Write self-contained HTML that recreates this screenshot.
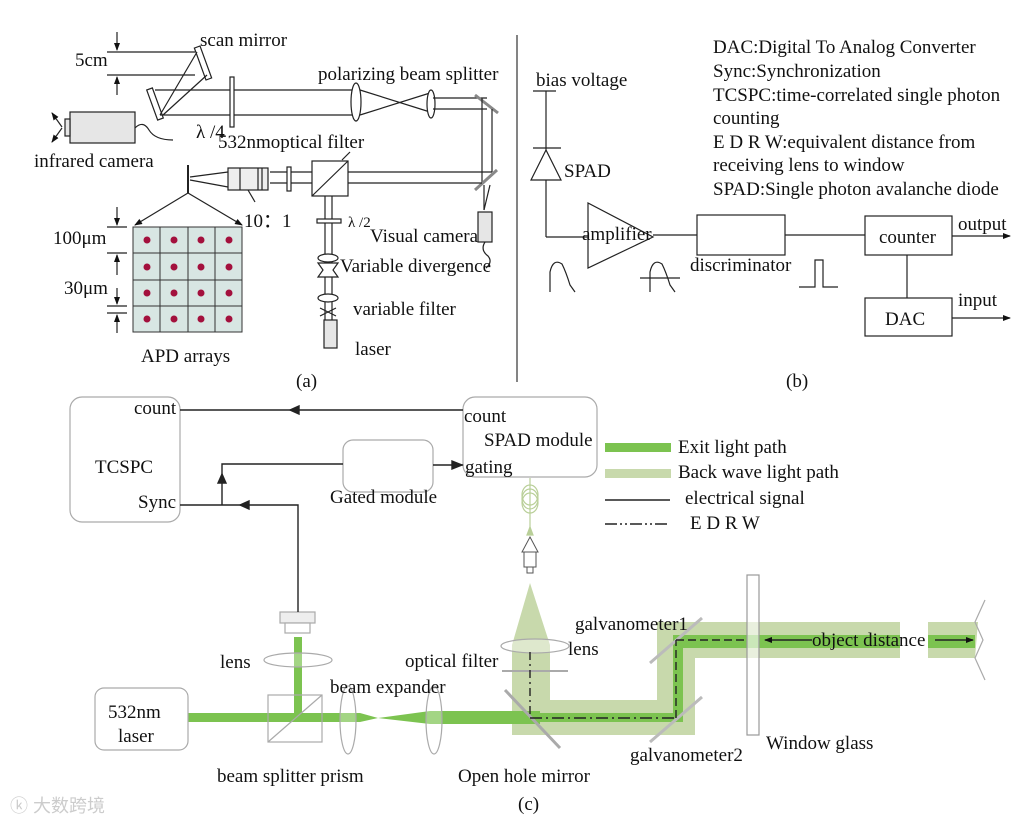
<!DOCTYPE html>
<html><head><meta charset="utf-8"><style>
html,body{margin:0;padding:0;background:#fff}
svg{display:block}
text{font-family:"Liberation Serif",serif;fill:#111}
</style></head><body>
<svg width="1024" height="824" viewBox="0 0 1024 824" xmlns="http://www.w3.org/2000/svg">
<defs>
<marker id="ah" markerWidth="8" markerHeight="8" refX="7" refY="4" orient="auto" markerUnits="userSpaceOnUse"><path d="M0,1 L8,4 L0,7 Z" fill="#111"/></marker>
</defs>
<line x1="517" y1="35" x2="517" y2="382" stroke="#333" stroke-width="1.2"/>

<!-- ===== Panel (a) ===== -->
<g stroke="#222" stroke-width="1.2" fill="none">
<line x1="107" y1="52" x2="195" y2="52"/><line x1="107" y1="75" x2="195" y2="75"/>
<line x1="117" y1="32" x2="117" y2="50" marker-end="url(#ah)"/>
<line x1="117" y1="95" x2="117" y2="77" marker-end="url(#ah)"/>
<rect x="200" y="46" width="6" height="34" transform="rotate(-20 203 63)" fill="#fff"/>
<rect x="152" y="88" width="6" height="32" transform="rotate(-20 155 104)" fill="#fff"/>
<line x1="197" y1="52" x2="160" y2="115"/><line x1="207" y1="75" x2="163" y2="115"/>
<line x1="155" y1="90" x2="355" y2="90"/><line x1="160" y1="115" x2="355" y2="115"/>
<rect x="230" y="77" width="4" height="50" fill="#fff"/>
<ellipse cx="356" cy="102" rx="5" ry="19" fill="#fff"/>
<line x1="360" y1="90" x2="430" y2="112"/><line x1="360" y1="115" x2="430" y2="93"/>
<ellipse cx="431" cy="104" rx="4" ry="14" fill="#fff"/>
<line x1="433" y1="98" x2="487" y2="98"/><line x1="433" y1="109" x2="487" y2="109"/>
<line x1="475" y1="95" x2="498" y2="113" stroke-width="3" stroke="#888"/>
<line x1="482" y1="98" x2="482" y2="183"/><line x1="492" y1="109" x2="492" y2="172"/>
<line x1="475" y1="190" x2="497" y2="170" stroke-width="3" stroke="#888"/>
<line x1="270" y1="172" x2="492" y2="172"/><line x1="270" y1="183" x2="482" y2="183"/>
<line x1="484" y1="185" x2="484" y2="210"/><line x1="490" y1="185" x2="484" y2="210"/>
<rect x="478" y="212" width="14" height="30" fill="#e6e6e6"/>
<path d="M485,242 q-5,8 3,14 q5,6 -2,12"/>
<rect x="312" y="161" width="36" height="35" fill="#fff"/>
<line x1="312" y1="196" x2="348" y2="161"/>
<line x1="342" y1="160" x2="350" y2="152"/>
<rect x="287" y="167" width="4" height="24" fill="#fff"/>
<rect x="228" y="168" width="40" height="22" fill="#eee"/>
<line x1="240" y1="168" x2="240" y2="190"/><line x1="258" y1="168" x2="258" y2="190"/>
<line x1="262" y1="168" x2="262" y2="190"/>
<line x1="190" y1="177" x2="228" y2="172"/><line x1="190" y1="180" x2="228" y2="187"/>
<line x1="248" y1="190" x2="255" y2="202"/>
<line x1="188" y1="165" x2="188" y2="193" stroke-width="2"/>
<line x1="188" y1="193" x2="135" y2="225" marker-end="url(#ah)"/>
<line x1="188" y1="193" x2="242" y2="225" marker-end="url(#ah)"/>
<line x1="325" y1="196" x2="325" y2="320"/><line x1="332" y1="196" x2="332" y2="320"/>
<rect x="317" y="219" width="24" height="4" fill="#fff"/>
<ellipse cx="328" cy="258" rx="10" ry="4" fill="#fff"/>
<path d="M318,263 L338,263 L333,270 L338,277 L318,277 L323,270 Z" fill="#fff"/>
<ellipse cx="328" cy="298" rx="10" ry="4" fill="#fff"/>
<path d="M320,308 L336,316 M320,316 L336,308"/>
<rect x="324" y="320" width="13" height="28" fill="#e6e6e6"/>
<rect x="70" y="112" width="65" height="31" fill="#e6e6e6"/>
<rect x="65" y="119" width="5" height="17" fill="#e6e6e6"/>
<line x1="62" y1="127" x2="52" y2="113" marker-end="url(#ah)"/>
<line x1="62" y1="128" x2="52" y2="142" marker-end="url(#ah)"/>
<path d="M135,128 q8,-8 14,2 q6,10 24,10"/>
<line x1="107" y1="227" x2="127" y2="227"/><line x1="107" y1="253" x2="127" y2="253"/>
<line x1="107" y1="306" x2="127" y2="306"/><line x1="107" y1="313" x2="127" y2="313"/>
<line x1="117" y1="207" x2="117" y2="225" marker-end="url(#ah)"/>
<line x1="117" y1="275" x2="117" y2="255" marker-end="url(#ah)"/>
<line x1="117" y1="288" x2="117" y2="304" marker-end="url(#ah)"/>
<line x1="117" y1="333" x2="117" y2="315" marker-end="url(#ah)"/>
</g>
<g stroke="#333" stroke-width="1">
<rect x="133" y="227" width="109" height="105" fill="#d8e6e3"/>
<line x1="160" y1="227" x2="160" y2="332"/><line x1="188" y1="227" x2="188" y2="332"/><line x1="215" y1="227" x2="215" y2="332"/>
<line x1="133" y1="253" x2="242" y2="253"/><line x1="133" y1="280" x2="242" y2="280"/><line x1="133" y1="306" x2="242" y2="306"/>
</g>
<g fill="#a3103d">
<circle cx="147" cy="240" r="3.5"/><circle cx="174" cy="240" r="3.5"/><circle cx="201" cy="240" r="3.5"/><circle cx="229" cy="240" r="3.5"/>
<circle cx="147" cy="267" r="3.5"/><circle cx="174" cy="267" r="3.5"/><circle cx="201" cy="267" r="3.5"/><circle cx="229" cy="267" r="3.5"/>
<circle cx="147" cy="293" r="3.5"/><circle cx="174" cy="293" r="3.5"/><circle cx="201" cy="293" r="3.5"/><circle cx="229" cy="293" r="3.5"/>
<circle cx="147" cy="319" r="3.5"/><circle cx="174" cy="319" r="3.5"/><circle cx="201" cy="319" r="3.5"/><circle cx="229" cy="319" r="3.5"/>
</g>
<g font-size="19">
<text x="200" y="46">scan mirror</text>
<text x="75" y="66">5cm</text>
<text x="318" y="80">polarizing beam splitter</text>
<text x="34" y="167">infrared camera</text>
<text x="196" y="138">λ /4</text>
<text x="218" y="148">532nmoptical filter</text>
<text x="244" y="227">10：1</text>
<text x="348" y="227" font-size="15">λ /2</text>
<text x="370" y="242">Visual camera</text>
<text x="340" y="272">Variable divergence</text>
<text x="353" y="315">variable filter</text>
<text x="355" y="355">laser</text>
<text x="53" y="244">100μm</text>
<text x="64" y="294">30μm</text>
<text x="141" y="362">APD arrays</text>
<text x="296" y="387">(a)</text>
</g>

<!-- ===== Panel (b) ===== -->
<g stroke="#222" stroke-width="1.2" fill="none">
<line x1="533" y1="91" x2="556" y2="91"/>
<line x1="546" y1="91" x2="546" y2="237"/>
<line x1="533" y1="148" x2="561" y2="148"/>
<path d="M546,150 L531,180 L561,180 Z" fill="#fff"/>
<line x1="546" y1="237" x2="590" y2="237"/>
<path d="M588,203 L588,268 L653,237 Z" fill="#fff"/>
<line x1="653" y1="235" x2="697" y2="235"/>
<rect x="697" y="215" width="88" height="40"/>
<line x1="785" y1="235" x2="865" y2="235"/>
<rect x="865" y="216" width="87" height="39"/>
<line x1="952" y1="236" x2="1010" y2="236" marker-end="url(#ah)"/>
<line x1="907" y1="255" x2="907" y2="298"/>
<rect x="865" y="298" width="87" height="38"/>
<line x1="952" y1="318" x2="1010" y2="318" marker-end="url(#ah)"/>
<path d="M550,292 L550,272 Q553,258 562,264 Q566,272 570,285 L575,292"/>
<path d="M650,292 L650,272 Q653,258 662,264 Q666,272 670,285 L675,292"/>
<line x1="640" y1="278" x2="680" y2="278"/>
<path d="M799,287 L815,287 L815,260 L823,260 L823,287 L838,287"/>
</g>
<g font-size="19">
<text x="713" y="53">DAC:Digital To Analog Converter</text>
<text x="713" y="77">Sync:Synchronization</text>
<text x="713" y="101">TCSPC:time-correlated single photon</text>
<text x="713" y="124">counting</text>
<text x="713" y="148">E D R W:equivalent distance from</text>
<text x="713" y="171">receiving lens to window</text>
<text x="713" y="195">SPAD:Single photon avalanche diode</text>
<text x="536" y="86">bias voltage</text>
<text x="564" y="177">SPAD</text>
<text x="582" y="240">amplifier</text>
<text x="690" y="271">discriminator</text>
<text x="879" y="243">counter</text>
<text x="885" y="325">DAC</text>
<text x="958" y="230">output</text>
<text x="958" y="306">input</text>
<text x="786" y="387">(b)</text>
</g>

<!-- ===== Panel (c) ===== -->
<g fill="#c8d9ac">
<path d="M530,583 L550,645 L550,700 L657,700 L657,622 L900,622 L900,658 L695,658 L695,735 L512,735 L512,645 Z"/>
<path d="M928,622 L978,622 L975,658 L928,658 Z"/>
</g>
<g fill="#7cc350">
<path d="M188,713 L360,713 L378,718 L360,722 L188,722 Z"/>
<path d="M378,718 L430,711 L540,711 L540,724 L430,724 Z"/>
<path d="M505,713 L683,713 L683,722 L505,722 Z"/>
<path d="M673,640 L683,640 L683,722 L673,722 Z"/>
<path d="M673,635 L900,635 L900,648 L673,648 Z"/>
<path d="M928,635 L975,635 L975,648 L928,648 Z"/>
<rect x="294" y="637" width="8" height="81"/>
</g>
<rect x="747" y="575" width="12" height="160" fill="#fff" fill-opacity="0.6" stroke="#999" stroke-width="1.2"/>
<g stroke="#aaa" stroke-width="1.2" fill="none">
<polyline points="985,600 975,622 983,640 975,658 985,680"/>
<line x1="505" y1="690" x2="560" y2="748" stroke-width="3"/>
<line x1="650" y1="663" x2="702" y2="618" stroke-width="3" stroke="#bbb"/>
<line x1="650" y1="742" x2="702" y2="697" stroke-width="3" stroke="#bbb"/>
<ellipse cx="535" cy="646" rx="34" ry="7" fill="#fff" fill-opacity="0.4"/>
<line x1="502" y1="671" x2="568" y2="671" stroke-width="2"/>
<ellipse cx="298" cy="660" rx="34" ry="7" fill="#fff" fill-opacity="0.3"/>
<ellipse cx="348" cy="720" rx="8" ry="34" fill="#fff" fill-opacity="0.3"/>
<ellipse cx="434" cy="720" rx="8" ry="34" fill="#fff" fill-opacity="0.3"/>
<rect x="268" y="695" width="54" height="47"/>
<line x1="268" y1="742" x2="322" y2="695"/>
<rect x="95" y="688" width="93" height="62" rx="9"/>
<rect x="70" y="397" width="110" height="125" rx="12"/>
<rect x="463" y="397" width="134" height="80" rx="12"/>
<rect x="343" y="440" width="90" height="52" rx="10"/>
<rect x="280" y="612" width="35" height="11" fill="#eee"/>
<rect x="285" y="623" width="25" height="10" fill="#fff"/>
</g>
<g stroke="#b9cf98" stroke-width="1.2" fill="none">
<line x1="530" y1="478" x2="530" y2="530"/>
<ellipse cx="530" cy="495" rx="8" ry="10"/><ellipse cx="530" cy="499" rx="8" ry="10"/><ellipse cx="530" cy="503" rx="8" ry="10"/>
<path d="M527,535 L530,527 L533,535 Z" fill="#b9cf98"/>
</g>
<g stroke="#555" stroke-width="1" fill="#fff">
<path d="M530,537 L538,552 L522,552 Z"/>
<rect x="524" y="552" width="12" height="15"/>
<rect x="527" y="567" width="6" height="6"/>
</g>
<g stroke="#222" stroke-width="1.4" fill="none">
<line x1="463" y1="410" x2="180" y2="410"/>
<path d="M290,410 l9,-4 l0,8 Z" fill="#222"/>
<polyline points="180,505 298,505 298,612"/>
<path d="M240,505 l9,-4 l0,8 Z" fill="#222"/>
<polyline points="222,505 222,464 343,464"/>
<path d="M222,474 l-4,9 l8,0 Z" fill="#222"/>
<line x1="433" y1="465" x2="463" y2="465"/>
<path d="M462,465 l-10,-4 l0,8 Z" fill="#222"/>
<line x1="605" y1="500" x2="670" y2="500"/>
<line x1="605" y1="524" x2="670" y2="524" stroke-dasharray="12,3,2,3,2,3"/>
<line x1="530" y1="652" x2="530" y2="718" stroke-dasharray="8,4,2,4"/>
<line x1="530" y1="718" x2="676" y2="718" stroke-dasharray="12,4,2,4"/>
<line x1="676" y1="718" x2="676" y2="640" stroke-dasharray="8,4"/>
<line x1="676" y1="640" x2="747" y2="640" stroke-dasharray="8,4"/>
<line x1="790" y1="640" x2="765" y2="640" marker-end="url(#ah)"/>
<line x1="790" y1="640" x2="812" y2="640"/>
<line x1="935" y1="640" x2="973" y2="640" marker-end="url(#ah)"/>
</g>
<rect x="605" y="443" width="66" height="9" fill="#7cc350"/>
<rect x="605" y="469" width="66" height="9" fill="#c8d9ac"/>
<g font-size="19">
<text x="134" y="414">count</text>
<text x="95" y="473">TCSPC</text>
<text x="138" y="508">Sync</text>
<text x="464" y="422">count</text>
<text x="484" y="446">SPAD module</text>
<text x="465" y="473">gating</text>
<text x="330" y="503">Gated module</text>
<text x="678" y="453">Exit light path</text>
<text x="678" y="478">Back wave light path</text>
<text x="685" y="504">electrical signal</text>
<text x="690" y="529">E D R W</text>
<text x="575" y="630">galvanometer1</text>
<text x="568" y="655">lens</text>
<text x="405" y="667">optical filter</text>
<text x="220" y="668">lens</text>
<text x="330" y="693">beam expander</text>
<text x="108" y="718">532nm</text>
<text x="118" y="742">laser</text>
<text x="812" y="646">object distance</text>
<text x="766" y="749">Window glass</text>
<text x="630" y="761">galvanometer2</text>
<text x="217" y="782">beam splitter prism</text>
<text x="458" y="782">Open hole mirror</text>
<text x="518" y="810">(c)</text>
</g>
<text x="10" y="812" font-size="18" style="font-family:'Liberation Sans','Noto Sans CJK SC',sans-serif;fill:#ccc">ⓚ 大数跨境</text>
</svg>
</body></html>
